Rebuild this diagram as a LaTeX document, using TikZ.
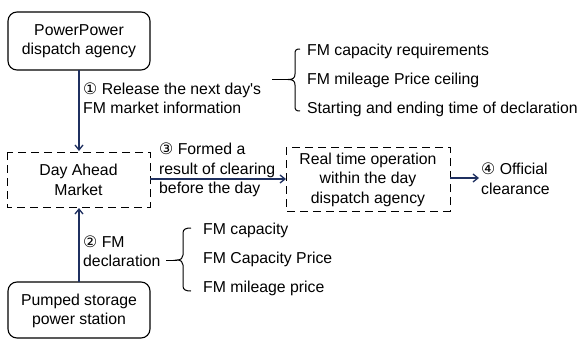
\documentclass[tikz,border=0pt]{standalone}
\usepackage{fontspec}
\setmainfont{Liberation Sans}
\newfontfamily\symfont[Scale=1.0]{DejaVu Sans}
\usetikzlibrary{arrows.meta}
\definecolor{arrowblue}{HTML}{1F3060}
\tikzset{
  txt/.style={font=\fontsize{15.8}{19.5}\selectfont, inner sep=0pt, align=left},
  ctxt/.style={font=\fontsize{15.8}{19.5}\selectfont, inner sep=0pt, align=center},
  solidbox/.style={draw, line width=1.1pt, rounded corners=9pt},
  dashbox/.style={draw, line width=0.9pt, dash pattern=on 8pt off 5pt},
  flow/.style={draw=arrowblue, line width=1.3pt, -{Straight Barb[length=5pt,width=8pt]}},
  bracket/.style={draw, line width=1pt},
}
\newcommand{\cnum}[1]{{\symfont #1}}
\begin{document}
\begin{tikzpicture}[x=1pt,y=-1pt]
\useasboundingbox (0,0) rectangle (582,340);
% boxes
\path[solidbox] (8,12) rectangle (150,70);
\node[ctxt] (top) at (79,41) {PowerPower\\dispatch agency};
\coordinate (topS) at (79,70);
\path[dashbox] (7,152) rectangle (150,207);
\node[ctxt] (dam) at (78.5,180) {Day Ahead\\Market};
\coordinate (damN) at (79,151);
\coordinate (damS) at (79,208);
\coordinate (damE) at (150,179);
\path[solidbox] (8,282) rectangle (150,338);
\node[ctxt] (pump) at (79,311) {Pumped storage\\power station};
\coordinate (pumpN) at (79,282);
\path[dashbox] (286,147) rectangle (450,211);
\node[ctxt] (rt) at (368,179.5) {Real time operation\\within the day\\dispatch agency};
\coordinate (rtW) at (286,179);
\coordinate (rtE) at (450,178);
\coordinate (endA) at (479,178);
% arrows
\draw[flow] (topS) -- (damN);
\draw[flow] (pumpN) -- (damS);
\draw[flow] (damE) -- (rtW);
\draw[flow] (rtE) -- (endA);
% labels
\node[txt, anchor=west] (l1) at (83,98) {\cnum{①} Release the next day\textquotesingle s\\FM market information};
\node[txt, anchor=west] (l2) at (83,251) {\cnum{②} FM\\declaration};
\node[txt, anchor=west] (l3) at (159,170) {\cnum{③} Formed a\\result of clearing\\before the day};
\node[txt, anchor=west] (l4) at (481,178.5) {\cnum{④} Official\\clearance};
% bracket 1
\coordinate (b1a) at (272,79.5);
\coordinate (b1tip) at (288,79.5);
\draw[bracket] (b1a) -- (b1tip);
\draw[bracket] (300,49) .. controls (296,49) and (295,50) .. (295,54) -- (295,74)
  .. controls (295,78) and (293,79.5) .. (b1tip)
  .. controls (293,79.5) and (295,81) .. (295,85) -- (295,106)
  .. controls (295,110) and (296,111) .. (300,111);
\node[txt, anchor=west] (i1) at (307,51) {FM capacity requirements};
\node[txt, anchor=west] (i2) at (307,80.5) {FM mileage Price ceiling};
\node[txt, anchor=west] (i3) at (307,109.5) {Starting and ending time of declaration};
% bracket 2
\coordinate (b2a) at (166,260);
\coordinate (b2tip) at (177,260);
\draw[bracket] (b2a) -- (b2tip);
\draw[bracket] (191,228) .. controls (186,228) and (183,229) .. (183,233) -- (183,255)
  .. controls (183,258) and (181,260) .. (b2tip)
  .. controls (181,260) and (183,262) .. (183,265) -- (183,286)
  .. controls (183,290) and (186,291) .. (191,291);
\node[txt, anchor=west] (j1) at (203,230.5) {FM capacity};
\node[txt, anchor=west] (j2) at (203,259.5) {FM Capacity Price};
\node[txt, anchor=west] (j3) at (203,288.5) {FM mileage price};
\end{tikzpicture}
\end{document}
